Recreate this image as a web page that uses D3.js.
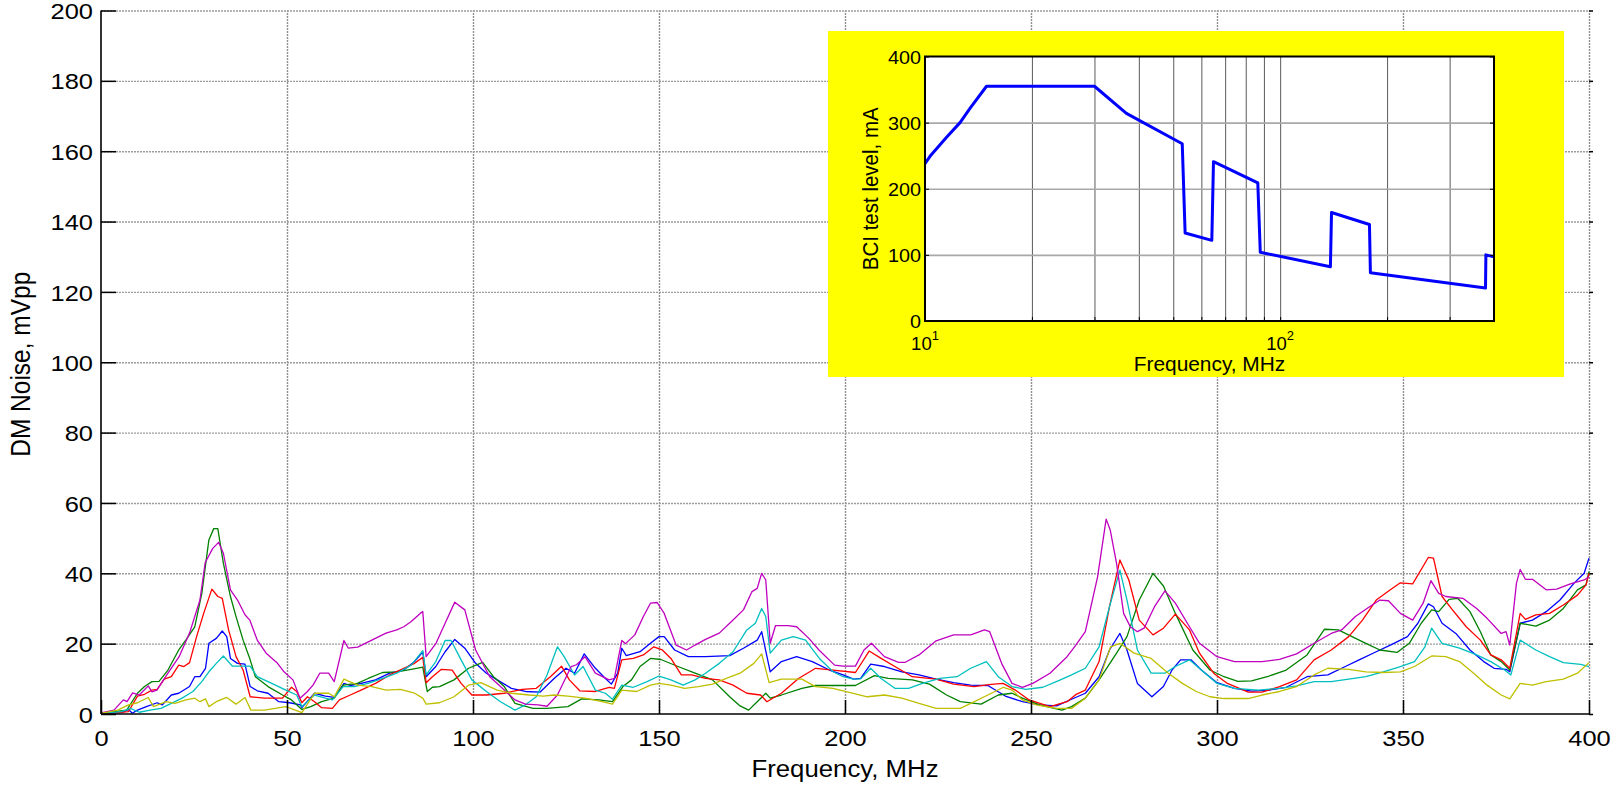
<!DOCTYPE html>
<html><head><meta charset="utf-8">
<script src="https://cdn.jsdelivr.net/npm/d3@7"></script>
<style>
html,body{margin:0;padding:0;background:#fff;}
svg{display:block;font-family:"Liberation Sans",Arial,sans-serif;}
</style></head><body>
<svg id="chart" width="1613" height="786"></svg>
<script>
// ---------- Main chart data: [frequency MHz, DM noise mVpp] ----------
const xTickValues = [0, 50, 100, 150, 200, 250, 300, 350, 400];
const yTickValues = [0, 20, 40, 60, 80, 100, 120, 140, 160, 180, 200];

const seriesBlue = [[0,0.2],[5.5,0.4],[7.4,1.3],[8.4,0.2],[9.8,1.1],[12.2,2.1],[15.1,3.2],[16.5,2.6],[18.9,5.4],[20.9,5.9],[23.8,7.8],[25.2,10.6],[26.6,10.6],[28.1,13],[29,20.1],[31,21.5],[32.6,23.6],[33.8,22],[34.8,15.8],[36.7,14.4],[38.7,14.2],[40.1,7.8],[42,6.6],[44.9,5.9],[47.8,3.5],[50.7,3.2],[53.6,2.6],[54,1.8],[57.4,5.9],[60.3,5.1],[62.7,4.7],[65.3,8.7],[67,8.1],[69.9,8.7],[73.8,9.7],[77.6,11.6],[81.4,12.5],[84.3,14.9],[86.5,17.7],[87.4,10.6],[90,13.5],[92.5,17.7],[95.1,21.2],[97.8,18.7],[100.7,14.4],[103.6,11.6],[106.5,9.7],[110.3,7.3],[114.1,6.4],[118,6.2],[121.8,10.1],[125,13],[127.3,11.6],[129.9,17.1],[132.9,13],[135.6,10.1],[137.2,8.5],[138.9,11.6],[140,18.7],[141.2,16.6],[144.9,17.7],[147.7,20.1],[150,22],[151.4,22],[154.2,18.2],[157.9,16.3],[162.5,16.3],[169,16.6],[172.7,18.7],[176.4,21],[177.6,23.4],[179.9,12],[182.9,14.9],[187,16.3],[191.2,14.9],[195.8,12.5],[199.5,11.1],[202.3,9.9],[204.2,10.1],[206.9,14.2],[210.6,13.5],[215.3,12],[219.9,11.1],[224.5,9.9],[229.2,8.9],[233.8,8.2],[238.4,8.1],[243.1,5.1],[247.7,3.5],[252.3,2.6],[256.9,2.3],[260.9,4.2],[264.6,5.9],[268.3,10.6],[271.1,18.2],[273.9,22.9],[275.8,18.2],[278.6,8.7],[282.5,4.9],[285.6,7.8],[287.9,12.5],[290.2,15.4],[293,15.4],[295.8,12.5],[300,8.9],[304.7,7.3],[309.3,6.5],[314,6.8],[318.6,7.6],[324.2,10.6],[329.8,11.1],[334.5,13.5],[338.2,15.4],[342.8,17.7],[346.6,19.6],[351.2,22],[354,25.8],[356.8,31.3],[358.2,30.5],[360.5,25.8],[364.2,22.9],[368,18.2],[371.7,14.9],[374.5,13],[377.7,12.7],[378.7,12],[381.5,25.8],[384.8,26.7],[388.5,29.1],[392.2,32.4],[396,37.2],[398.7,40],[400,44.3]];

const seriesGreen = [[0,0.2],[3.6,0.7],[6.9,1.1],[9.8,5.9],[11.7,7.8],[13.7,9.2],[15.6,9.3],[18,12.5],[20.9,18.2],[22.8,21],[25.2,24.8],[27.1,34.3],[29,49.5],[30.3,52.7],[31.4,52.7],[32.9,42.8],[34.8,33.4],[36.3,27.7],[38.2,21],[40.1,15.4],[41.5,10.6],[44.9,7.8],[48.8,5.4],[51.2,4],[54,1.3],[56.4,2.1],[59.3,3.5],[62.7,4.5],[65.1,8.2],[68.9,8.7],[71.8,10.1],[75.7,11.8],[79.5,12],[83.4,12.7],[86.5,13.3],[87.7,6.4],[89.1,7.6],[91,7.8],[94.9,9.7],[98.8,13],[102.6,14.7],[105.5,10.6],[108.4,7.8],[111.3,3],[116.1,1.6],[119.9,1.6],[125.5,2.1],[129.2,4.3],[133.8,4],[137.5,3.5],[140.3,7.8],[142.6,9.7],[144.9,13.5],[147.7,15.8],[150.5,15.5],[155.1,13.5],[159.7,11.6],[164.4,9.7],[169,4.9],[171.8,2.3],[174.1,1.1],[176.4,3.5],[178.7,5.9],[179.9,4.5],[182.9,5.4],[188.4,7.3],[192.1,8.1],[196.8,8.1],[202.8,8.1],[207.9,10.9],[211.6,10.1],[218.1,9.7],[222.7,8.5],[227.3,5.4],[231,3.5],[236.6,2.8],[241.2,5.4],[244.9,5.9],[247.7,4.5],[252.3,2.6],[258.3,1.1],[260.9,2.1],[264.6,4.5],[268.3,9.7],[273,17.3],[275.8,22],[279.1,32.4],[282.8,40],[285.6,36.4],[288.8,28.6],[293.5,18.2],[298.1,12.5],[301.9,10.6],[305.6,9.3],[309.3,9.4],[314,10.8],[318.6,12.5],[324.2,16.8],[328.9,24.1],[332.6,23.9],[336.3,22],[340,20.1],[343.8,18.2],[348.4,17.5],[351.7,20.1],[354.9,25.8],[357.7,29.6],[359.6,29.1],[362.4,32.6],[364.7,32.9],[368,29.1],[370.8,23.4],[373.6,16.8],[376.4,14.9],[378.7,12.5],[381.5,25.8],[385.7,25],[389.4,26.7],[393.1,30],[396.9,35.3],[399.2,36.7],[400,40.5]];

const seriesRed = [[0,0.2],[4.5,0.4],[7.4,0.7],[9.8,5.1],[11.7,5.6],[13.7,6.8],[15.1,7],[17,9.9],[18.9,10.6],[20.9,13.9],[22.3,13.5],[23.8,14.6],[25.7,22],[27.6,28.6],[29.8,35.5],[31.4,33.4],[32.6,32.9],[34.3,23.9],[36.3,16.3],[38.2,12.5],[40.1,4.9],[43.9,4.5],[48.8,4.5],[51.2,7.6],[52.6,6.4],[54,3.2],[55.5,4.9],[57.4,3.5],[59.3,1.8],[62.2,1.6],[64.1,4],[67,5.4],[69.9,6.8],[73.8,8.7],[77.6,11.1],[81.4,13],[84.3,14.4],[86.5,16.1],[87.4,8.9],[89.1,10.6],[91.5,12.7],[94.4,12.5],[96.8,8.7],[99.7,5.4],[103.6,5.4],[108.4,5.9],[113.2,7],[117,7.3],[118,8.2],[120.8,10.6],[123.8,13.6],[125.9,9.7],[128.7,6.6],[132.9,6.4],[136.6,7.6],[138,7.3],[140,15.4],[143.1,15.8],[145.8,16.8],[148.6,19.1],[150.9,18.2],[153.2,15.8],[156,11.1],[158.8,11.1],[162.5,10.1],[166.2,9.7],[169.9,8.2],[173.6,5.9],[177.3,5.4],[179,3.5],[182.9,5.9],[187.5,10.1],[192.1,13],[196.8,12.5],[202.8,11.8],[206.5,17.9],[209.7,15.8],[213.4,13.5],[218.1,10.6],[224.5,9.9],[229.2,8.5],[234.7,7.8],[239.3,8.4],[242.5,8.7],[245.8,6.8],[249.5,4],[255.1,2.1],[259.7,3.5],[262,5.5],[264.6,6.8],[268.3,14.9],[271.1,30.5],[273.9,43.8],[276.3,38.1],[279.1,26.7],[282.8,22.5],[285.6,24.4],[288.8,28.4],[292.6,23.9],[295.3,17.3],[299.1,11.6],[302.8,8.7],[308.4,6.2],[312.1,6.2],[316.8,7.8],[321.4,9.7],[326.1,15.4],[330.7,18.2],[335.4,22],[339.1,26.7],[342.8,32.4],[346.6,35.3],[349.3,37.3],[352.6,37],[356.8,44.5],[358.2,44.3],[360.5,33.4],[363.3,29.6],[367,24.8],[370.8,21],[373.6,16.8],[376.4,15.4],[378.7,13],[381.5,28.6],[382.9,26.9],[385.7,28.2],[389.4,28.6],[393.1,31],[396.9,33.8],[399.2,36.7],[400,40]];

const seriesCyan = [[0,0.2],[5.5,0.7],[7.9,1.6],[10.3,0.5],[13.2,1.1],[16.1,1.6],[18.9,3],[21.8,4.5],[24.7,6.4],[27.1,9.2],[29,12],[31,14.4],[32.9,16.5],[35.3,13.6],[37.2,13.6],[40.1,13.6],[42,10.6],[45.9,8.7],[49.7,6.8],[52.6,5.4],[54,2.1],[57.4,5.4],[60.3,4.5],[62.2,4],[65.1,7.8],[68,7.8],[71.8,8.7],[75.7,10.1],[79.5,11.6],[83.4,13.9],[86.5,18],[87.4,11.1],[90,14.9],[92.5,20.9],[94.1,20.9],[96.8,15.4],[99.7,9.7],[103.6,6.4],[107.4,3.5],[111.3,1.1],[114.1,2.6],[117,4.9],[119.9,11.1],[122.7,19.1],[124.5,16.3],[127.3,11.1],[129.6,13.5],[132.9,6.8],[135.6,5.9],[137.5,4.2],[140,8.2],[143.1,7.6],[146.8,9.2],[150,10.8],[153.2,9.7],[156.5,8.2],[159.7,9.7],[162.5,11.6],[166.2,14.4],[169.9,17.7],[173.6,23.9],[175.9,25.8],[177.6,30],[178.7,27.7],[179.9,17.3],[182.9,21],[186.1,22],[189.4,21],[193.1,15.8],[196.8,12],[199.5,10.6],[202.3,9.9],[204.2,10],[206.9,13],[209.7,10.1],[213.4,7.3],[217.1,7.3],[220.8,8.7],[225.5,10.1],[230.1,10.6],[233.8,13],[238,14.9],[241.2,10.6],[244.9,7.8],[248.6,7],[253.2,7.6],[257.9,9.7],[260.9,11.1],[264.6,13],[268.3,19.1],[271.1,30.5],[273.9,40.9],[275.8,32.4],[278.6,18.2],[282.3,11.6],[286,11.6],[288.8,13.5],[292.6,15.4],[295.8,12.5],[300,8.7],[304.7,7.3],[311.2,6.8],[316.8,7.3],[321.4,8],[326.1,9.2],[330.7,9.2],[335.4,9.9],[340,10.6],[344.7,12],[349.3,13.5],[353.1,14.9],[355.9,19.1],[357.7,24.4],[360.5,20.1],[365.2,18.7],[369.8,16.8],[373.6,14.9],[377.3,12.5],[379,11.1],[381.5,21],[385.7,18.2],[389.4,16.3],[393.1,14.6],[397.8,14.1],[400,13.5]];

const seriesMagenta = [[0,0.3],[3.5,1.1],[6,4],[7,3.5],[8.5,6],[10.3,5.4],[12.7,8],[13.7,6.3],[15,6.8],[18,11.6],[21,16.3],[23.8,23],[26.6,32.4],[28,43],[30,47],[31.6,48.8],[32.9,45.7],[34.8,35.3],[36.7,32.4],[38.7,28.2],[40,26.7],[42,21],[44.4,17.3],[47.3,14.6],[49.2,12],[51.6,9.7],[53.5,4.5],[55.5,6.4],[57,8.2],[58.8,11.6],[61.2,11.6],[62.7,9.2],[65.3,20.9],[66.5,18.7],[69,19],[72.8,21],[76.6,23],[79.5,23.9],[81.4,24.8],[83.4,26.3],[85.8,28.6],[86.5,29.1],[87.4,16.3],[90,20],[92.5,25.8],[95.1,31.8],[97.8,29.6],[100.7,18.2],[104.5,10.6],[107.4,7.8],[111.3,4],[114.1,2.8],[117.5,2.6],[119.9,2.2],[122.7,5.4],[126.4,13.5],[127.8,14],[130.1,16.3],[132.9,11.6],[136.6,9.7],[138,10.1],[140,20.9],[141,20],[143.5,22.5],[145.8,27.7],[147.7,31.5],[149.5,31.7],[151.4,28.6],[154.6,19.6],[157.4,18.2],[159.7,19.6],[162.5,21.2],[166.2,23],[169.9,26.7],[172.7,29.6],[175,34.8],[176.4,35.7],[177.6,40],[178.7,38.1],[179.9,20.1],[181.3,25.1],[184.7,25.1],[187,24.8],[190.3,21.5],[193,18.2],[197.2,13.9],[199.5,13.6],[202.8,13.6],[205.1,18.2],[207.1,20.1],[210.6,16.3],[214.4,14.7],[216.2,14.7],[219.9,16.8],[224.5,20.8],[229.2,22.5],[233.8,22.5],[237.5,23.9],[238.9,23.4],[242.1,14.4],[244.9,8.7],[247.7,7.6],[250.5,8.7],[255.1,11.6],[259.7,16.3],[262,19.5],[264.6,23.4],[267.9,39],[270.2,55.4],[271.3,52.3],[273,42.8],[274.9,28.6],[276.7,24.8],[278.6,23.4],[280.4,24.4],[283.2,30.5],[286,35],[288.8,31.5],[292.6,24.8],[295.3,20.1],[300,16.3],[304.7,14.9],[312.1,14.9],[316.8,15.5],[321.4,17.1],[326.1,20.1],[330.7,22.9],[333.5,23.9],[337.2,27.7],[341,30.5],[343.8,32.4],[346.1,32.2],[349.3,28.6],[352.6,26.7],[355.4,31.5],[357.5,37.9],[359.6,34.3],[361.5,33.4],[366.1,32.9],[369.8,30],[372.6,27.2],[376.4,22.9],[377.7,23.4],[378.7,19.6],[380.5,37.2],[381.5,41.1],[382.9,38.3],[384.8,38.3],[388.5,35.3],[391.3,35.5],[395,37],[398.7,38.1],[400,39]];

const seriesYellow = [[0,0.2],[4.5,1.1],[7.4,2.6],[9.8,3.2],[12.7,4.7],[14.1,2.1],[17.5,3.5],[19.9,3],[22.8,4],[25.2,4.5],[26.6,3.5],[28.1,4.3],[29,2.1],[31,3.5],[33.8,4.7],[36.3,2.8],[38.7,4.7],[40.3,1.1],[43.9,1.1],[46.8,1.6],[49.7,2.1],[54,0.4],[57.4,5.9],[61.2,5.9],[62.7,4.9],[65.3,9.9],[69,8.2],[72.8,7.8],[76.6,6.8],[80.5,7],[84.3,5.9],[86.5,4.5],[87.4,2.8],[91,3.2],[94.9,4.9],[98.8,8.2],[102.1,8.9],[106.5,6.8],[110.3,5.9],[115.1,5.4],[118.9,5.1],[121.8,5.4],[125.5,5.1],[130.1,4.5],[134.7,3.5],[137.5,2.8],[140,6.8],[144,6.4],[147.7,8.2],[150,8.7],[153.2,8.2],[156.9,7.3],[160.6,7.8],[164.4,8.5],[168.1,10.1],[171.8,11.6],[175.5,14.4],[177.6,17.1],[179.6,8.9],[182.9,9.9],[188.4,9.9],[192.1,7.8],[196.8,7.3],[201.4,6.1],[206,4.9],[210.6,5.4],[215.3,4.5],[219.9,3],[224.5,1.6],[231,1.6],[233.8,3],[238.4,5.4],[242.6,7.6],[244.9,6.8],[247.7,4],[251.4,2.6],[256.9,1.6],[260.9,1.6],[264.6,4.5],[268.3,9.7],[271.4,19.1],[273.9,20.1],[277.7,17.3],[282.3,15.8],[286.9,11.6],[290.7,8.7],[294.4,6.4],[298.1,4.9],[301.9,4.4],[308.4,4.4],[312.1,5.4],[316.8,6.4],[321.4,7.8],[326.1,11.1],[329.8,13],[335.4,12.7],[340,12],[344.7,11.8],[349.3,12],[353.1,13.5],[357.7,16.5],[361.5,16.3],[365.2,14.9],[369,11.6],[372.6,8.2],[376.4,5.4],[378.7,4.3],[381.5,8.7],[384.8,8.2],[388.5,9.2],[393.1,9.9],[396.9,11.6],[400,14.6]];

const seriesColors = ['#0000ff','#008000','#ff0000','#00bfbf','#bf00bf','#bfbf00'];
const seriesData = [seriesBlue, seriesGreen, seriesRed, seriesCyan, seriesMagenta, seriesYellow];

// ---------- Inset data: BCI test level ----------
const bciFreq  = [10, 10.33, 11.5, 12.55, 13.4, 14.9, 30, 36.9, 53, 54, 64.2, 64.9, 86.5, 87.9, 138.5, 139.5, 178.4, 179.5, 378.6, 379.5, 400];
const bciLevel = [238, 249, 278, 300, 322, 355, 355, 314, 268, 133, 122, 241, 209, 104, 82, 164, 146, 73, 50, 100, 97];
const insetYTicks = [0, 100, 200, 300, 400];
const insetMinorX = [20, 30, 40, 50, 60, 70, 80, 90, 100, 200, 300];
const insetMajorX = [[10, '1'], [100, '2']];

// ---------- Drawing ----------
const svg = d3.select('#chart');
const M = {left: 101, right: 1589, top: 10.5, bottom: 714};
const x = d3.scaleLinear().domain([0, 400]).range([M.left, M.right]);
const y = d3.scaleLinear().domain([0, 200]).range([M.bottom, M.top]);

function stretch(sel, k) {
  sel.each(function () {
    const w = this.getComputedTextLength();
    d3.select(this).attr('textLength', w * k).attr('lengthAdjust', 'spacingAndGlyphs');
  });
}

svg.append('rect').attr('x', M.left).attr('y', M.top).attr('width', M.right - M.left).attr('height', M.bottom - M.top).attr('fill', '#fff');

// grid
const gridX = svg.append('g').attr('transform', `translate(0,${M.bottom})`)
  .call(d3.axisBottom(x).tickValues(xTickValues.slice(1)).tickSize(-(M.bottom - M.top)).tickFormat(''));
gridX.select('.domain').remove();
gridX.selectAll('line').attr('stroke', '#8f8f8f').attr('stroke-width', 1.4).attr('stroke-dasharray', '2,1');
const gridY = svg.append('g').attr('transform', `translate(${M.left},0)`)
  .call(d3.axisLeft(y).tickValues(yTickValues.slice(1)).tickSize(-(M.right - M.left)).tickFormat(''));
gridY.select('.domain').remove();
gridY.selectAll('line').attr('stroke', '#9c9c9c').attr('stroke-width', 1.4).attr('stroke-dasharray', '2,1');

// right-side small ticks
const rTicks = svg.append('g').attr('transform', `translate(${M.right},0)`)
  .call(d3.axisRight(y).tickValues(yTickValues).tickSize(4).tickFormat(''));
rTicks.select('.domain').remove();
rTicks.selectAll('line').attr('stroke', '#000').attr('stroke-width', 1.5);

// data lines
const line = d3.line().x(d => x(d[0])).y(d => y(d[1]));
const plotG = svg.append('g');
seriesData.forEach((s, i) => {
  plotG.append('path').datum(s).attr('fill', 'none').attr('stroke', seriesColors[i])
    .attr('stroke-width', 1.3).attr('stroke-linejoin', 'round').attr('d', line);
});

// axes
const axL = svg.append('g').attr('transform', `translate(${M.left},0)`)
  .call(d3.axisLeft(y).tickValues(yTickValues).tickSize(-15).tickPadding(8));
axL.select('.domain').attr('stroke', '#000').attr('stroke-width', 1.6).attr('d', `M0,${M.top}V${M.bottom}`);
axL.selectAll('line').attr('stroke', '#000').attr('stroke-width', 1.5);
axL.selectAll('text').attr('font-size', 22.5).attr('fill', '#000').attr('font-family', '"Liberation Sans", Arial, sans-serif').attr('dy', '0.36em');
stretch(axL.selectAll('text'), 1.13);

const axB = svg.append('g').attr('transform', `translate(0,${M.bottom})`)
  .call(d3.axisBottom(x).tickValues(xTickValues).tickSize(-14).tickPadding(16));
axB.select('.domain').attr('stroke', '#000').attr('stroke-width', 1.6).attr('d', `M${M.left},0H${M.right}`);
axB.selectAll('line').attr('stroke', '#000').attr('stroke-width', 1.5);
axB.selectAll('text').attr('font-size', 22.5).attr('fill', '#000').attr('font-family', '"Liberation Sans", Arial, sans-serif');
stretch(axB.selectAll('text'), 1.13);

// axis titles
const xt = svg.append('text').attr('x', (M.left + M.right) / 2).attr('y', 777).attr('text-anchor', 'middle')
  .attr('font-size', 23.5).attr('fill', '#000').text('Frequency, MHz');
stretch(xt, 1.096);
svg.append('text').attr('transform', `translate(29.5,${(M.top + M.bottom) / 2 + 2}) scale(1.1,1) rotate(-90)`)
  .attr('text-anchor', 'middle').attr('font-size', 24.5).attr('fill', '#000').text('DM Noise, mVpp');

// ---------- Inset ----------
const I = {left: 925, right: 1494, top: 56.5, bottom: 321};
const inset = svg.append('g');
inset.append('rect').attr('x', 828).attr('y', 31).attr('width', 736).attr('height', 346).attr('fill', '#ffff00');
inset.append('rect').attr('x', I.left).attr('y', I.top).attr('width', I.right - I.left).attr('height', I.bottom - I.top).attr('fill', '#fff');
const xi = d3.scaleLog().domain([10, 400]).range([I.left, I.right]);
const yi = d3.scaleLinear().domain([0, 400]).range([I.bottom, I.top]);

const igx = inset.append('g').attr('transform', `translate(0,${I.bottom})`)
  .call(d3.axisBottom(xi).tickValues(insetMinorX).tickSize(-(I.bottom - I.top)).tickFormat(''));
igx.select('.domain').remove();
igx.selectAll('line').attr('stroke', '#5a5a5a').attr('stroke-width', 1);
const igy = inset.append('g').attr('transform', `translate(${I.left},0)`)
  .call(d3.axisLeft(yi).tickValues([100, 200, 300]).tickSize(-(I.right - I.left)).tickFormat(''));
igy.select('.domain').remove();
igy.selectAll('line').attr('stroke', '#a8a8a8').attr('stroke-width', 1.6);

// BCI curve
const bciPts = bciFreq.map((f, i) => [f, bciLevel[i]]);
inset.append('path').datum(bciPts).attr('fill', 'none').attr('stroke', '#0000ff').attr('stroke-width', 3)
  .attr('stroke-linejoin', 'round')
  .attr('d', d3.line().x(d => xi(d[0])).y(d => yi(d[1])));

// inset frame
inset.append('rect').attr('x', I.left).attr('y', I.top).attr('width', I.right - I.left).attr('height', I.bottom - I.top)
  .attr('fill', 'none').attr('stroke', '#000').attr('stroke-width', 2);

// inset ticks and labels
const iaL = inset.append('g').attr('transform', `translate(${I.left},0)`)
  .call(d3.axisLeft(yi).tickValues(insetYTicks).tickSize(-4).tickPadding(4));
iaL.select('.domain').remove();
iaL.selectAll('line').attr('stroke', '#000');
iaL.selectAll('text').attr('font-size', 18.5).attr('fill', '#000').attr('font-family', '"Liberation Sans", Arial, sans-serif').attr('dy', '0.36em');
stretch(iaL.selectAll('text'), 1.07);
const iaR = inset.append('g').attr('transform', `translate(${I.right},0)`)
  .call(d3.axisRight(yi).tickValues(insetYTicks).tickSize(-4).tickFormat(''));
iaR.select('.domain').remove();
iaR.selectAll('line').attr('stroke', '#000');
const iaB = inset.append('g').attr('transform', `translate(0,${I.bottom})`)
  .call(d3.axisBottom(xi).tickValues(insetMinorX.concat([10])).tickSize(-4).tickFormat(''));
iaB.select('.domain').remove();
iaB.selectAll('line').attr('stroke', '#000');

insetMajorX.forEach(([v, e]) => {
  const t = inset.append('text').attr('x', xi(v)).attr('y', 350).attr('text-anchor', 'middle')
    .attr('font-size', 18.5).attr('fill', '#000');
  t.append('tspan').text('10');
  t.append('tspan').attr('dy', -10).attr('font-size', 13).text(e);
});

const ixt = inset.append('text').attr('x', (I.left + I.right) / 2).attr('y', 370.5).attr('text-anchor', 'middle')
  .attr('font-size', 19.5).attr('fill', '#000').text('Frequency, MHz');
stretch(ixt, 1.07);
inset.append('text').attr('transform', `translate(878,${(I.top + I.bottom) / 2}) scale(1.08,1) rotate(-90)`)
  .attr('text-anchor', 'middle').attr('font-size', 20.5).attr('fill', '#000').text('BCI test level, mA');
</script>
</body></html>
